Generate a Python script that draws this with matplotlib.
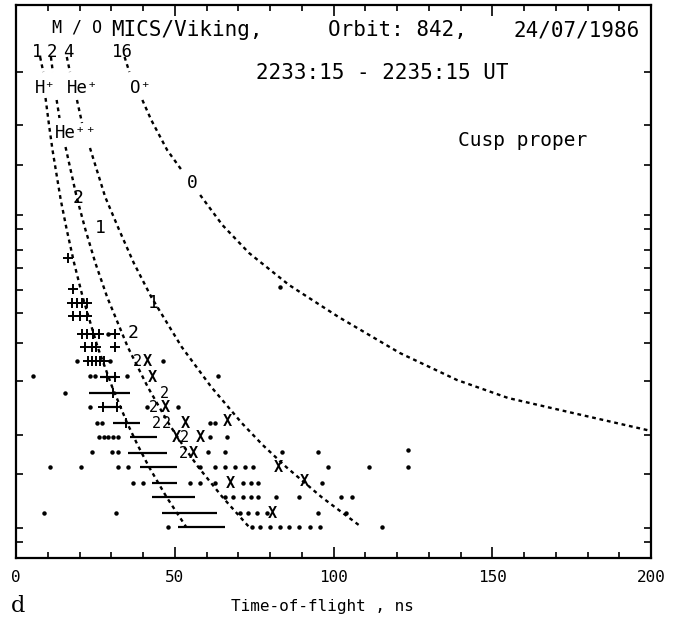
import matplotlib
matplotlib.use("Agg")
import matplotlib.pyplot as plt
from matplotlib.ticker import MultipleLocator

mono = ['DejaVu Sans Mono', 'DejaVu Sans']
plt.rcParams['font.family'] = mono

# vertical scale is the energy step row (0 = top of frame), unlabeled
ytick_rows = [72, 125, 165, 215, 229, 250, 268, 290, 313, 343, 381, 435, 474, 528, 542]
xtick_major = [0, 50, 100, 150, 200]

# M/Q calibration curves, each split into pieces around their labels (tof ns, row)
h_pieces = [
    ([7.6, 8.6], [57, 72]),
    ([9.3, 10.4, 11.5, 14.1, 16.0, 18.3, 21.0, 25.7, 30.3, 35.0, 38.3, 41.9, 47.4, 53.6],
     [98, 125, 150, 200, 230, 263, 297, 347, 387, 423, 445, 467, 497, 527]),
]
hepp_pieces = [
    ([11.0, 11.6], [57, 72]),
    ([12.8, 13.7], [100, 118]),
    ([15.6, 19.1, 21.9, 25.0, 28.7, 35.2, 41.5, 48.0, 52.5, 57.4, 65.0, 73.4],
     [147, 197, 230, 263, 297, 347, 387, 423, 445, 467, 497, 527]),
]
hep_pieces = [
    ([16.0, 17.0], [57, 72]),
    ([19.2, 20.8], [100, 123]),
    ([23.3, 28.1, 32.5, 37.1, 42.6, 52.2, 61.5, 71.1, 77.7, 85.1, 96.2, 108.8],
     [148, 197, 230, 263, 297, 347, 387, 423, 445, 467, 497, 527]),
]
op_pieces = [
    ([34.2, 35.7], [57, 72]),
    ([39.8, 42.6, 47.6, 52.6], [100, 120, 150, 172]),
    ([58.0, 65.0, 73.4, 86.0, 101.6, 120.9, 138.9, 155.0, 175.4, 198.7, 200.0],
     [195, 225, 253, 285, 317, 353, 380, 398, 413, 430, 431]),
]

# single counts
dot_tof = [29.0, 19.2, 29.6, 46.3, 5.4, 23.3, 24.9, 35.0, 63.6, 15.4,
           23.3, 41.3, 51.0, 25.5, 27.1, 61.1, 62.7,
           26.1, 27.7, 29.0, 30.6, 32.1, 61.1, 66.5,
           23.9, 30.2, 32.1, 60.5, 65.8, 83.8, 95.1,
           10.7, 20.5, 32.1, 35.3, 58.0, 62.7, 65.8, 69.0, 72.0, 74.6, 98.3, 111.2, 123.5,
           36.9, 40.0, 54.8, 58.0, 62.7, 71.5, 74.0, 76.2, 96.4,
           65.8, 68.5, 71.5, 74.0, 76.2, 81.9, 89.1, 102.4, 105.8,
           8.8, 31.5, 70.6, 73.0, 76.0, 79.1, 95.1, 103.9,
           47.9, 74.3, 77.0, 80.0, 83.0, 86.0, 89.0, 92.6, 95.7, 115.3,
           83.1, 123.5]
dot_row = [334, 361, 361, 361, 376, 376, 376, 376, 376, 393,
           407, 407, 407, 423, 423, 423, 423,
           437, 437, 437, 437, 437, 437, 437,
           452, 452, 452, 452, 452, 452, 452,
           467, 467, 467, 467, 467, 467, 467, 467, 467, 467, 467, 467, 467,
           483, 483, 483, 483, 483, 483, 483, 483, 483,
           497, 497, 497, 497, 497, 497, 497, 497, 497,
           513, 513, 513, 513, 513, 513, 513, 513,
           527, 527, 527, 527, 527, 527, 527, 527, 527, 527,
           287, 450]

# runs of adjacent counts
run_start = [26.5, 23.0, 27.4, 30.6, 35.9, 35.3, 39.1, 42.8, 42.8, 46.0, 51.0]
run_end = [31.8, 35.9, 31.8, 39.1, 44.4, 47.6, 50.7, 50.7, 56.4, 63.3, 65.8]
run_row = [377, 393, 407, 423, 437, 453, 467, 483, 497, 513, 527]

plus_tof = [16.4, 18.0, 17.6, 19.2, 20.8, 22.4, 18.0, 20.2, 22.4,
            20.8, 22.4, 24.3, 26.1, 31.2, 21.7, 23.9, 25.2, 31.2,
            22.7, 24.0, 25.2, 26.5, 27.7, 28.7, 31.2, 30.6, 27.4, 31.8, 34.6]
plus_row = [258, 289, 303, 303, 303, 303, 316, 316, 316,
            334, 334, 334, 334, 334, 347, 347, 347, 347,
            361, 361, 361, 361, 361, 377, 377, 393, 407, 407, 423]

x_tof = [41.3, 42.8, 46.9, 53.2, 66.5, 50.4, 58.0, 55.8, 82.5, 90.7, 67.4, 80.9]
x_row = [362, 378, 408, 423, 422, 437, 437, 453, 467, 482, 483, 513]

two_tof = [38.2, 46.9, 43.4, 44.2, 47.3, 53.0, 52.6]
two_row = [362, 393, 408, 423, 423, 437, 453]

# labels along the curves
curve_marks = ['0', '2', '1', '1', '2']
curve_mark_tof = [55.4, 19.5, 26.5, 43.1, 36.9]
curve_mark_row = [183, 198, 228, 303, 333]

mq_values = ['1', '2', '4', '16']
mq_tof = [6.6, 11.3, 16.4, 33.4]
ion_names = ['H⁺', 'He⁺', 'O⁺', 'He⁺⁺']
ion_tof = [9.1, 21.1, 39.1, 19.0]
ion_row = [88, 88, 88, 133]

fig = plt.figure(figsize=(6.82, 6.22), dpi=100)
ax = fig.add_axes([16 / 682, 64 / 622, 635 / 682, 553 / 622])
ax.set_xlim(0, 200)
ax.set_ylim(558, 5)

dash = dict(color='k', lw=1.7, linestyle=(0, (1.6, 1.6)))
for pieces in (h_pieces, hepp_pieces, hep_pieces, op_pieces):
    for xs, ys in pieces:
        ax.plot(xs, ys, **dash)

ax.plot(dot_tof, dot_row, 'o', ms=2.2, color='k')
ax.hlines(run_row, run_start, run_end, color='k', lw=1.6)
ax.plot(plus_tof, plus_row, '+', ms=7, mew=1.4, color='k')
for x, y in zip(x_tof, x_row):
    ax.text(x, y, 'X', fontsize=11, fontweight='bold', ha='center', va='center')
for x, y in zip(two_tof, two_row):
    ax.text(x, y, '2', fontsize=11, ha='center', va='center')
for s, x, y in zip(curve_marks, curve_mark_tof, curve_mark_row):
    ax.text(x, y, s, fontsize=13, ha='center', va='center')

for s, x in zip(mq_values, mq_tof):
    ax.text(x, 52, s, fontsize=12.5, ha='center', va='center')
for s, x, y in zip(ion_names, ion_tof, ion_row):
    ax.text(x, y, s, fontsize=12.5, ha='center', va='center')

ax.text(19.3, 28, 'M / O', fontsize=12, ha='center', va='center')
ax.text(30.0, 30, 'MICS/Viking,', fontsize=15, ha='left', va='center')
ax.text(98.3, 30, 'Orbit: 842,', fontsize=15, ha='left', va='center')
ax.text(196.5, 30, '24/07/1986', fontsize=15, ha='right', va='center')
ax.text(115.3, 73, '2233:15 - 2235:15 UT', fontsize=15, ha='center', va='center')
ax.text(159.7, 140, 'Cusp proper', fontsize=14, ha='center', va='center')

ax.set_xticks(xtick_major)
ax.xaxis.set_minor_locator(MultipleLocator(10))
ax.set_yticks(ytick_rows)
ax.tick_params(axis='x', which='major', direction='in', top=True, length=8,
               width=1.2, labelsize=11.5, pad=9)
ax.tick_params(axis='x', which='minor', direction='in', top=True, length=4, width=1.2)
ax.tick_params(axis='y', direction='in', right=True, length=5, width=1.2,
               labelleft=False)
for sp in ax.spines.values():
    sp.set_linewidth(1.6)

fig.text(322 / 682, 1 - 606 / 622, 'Time-of-flight , ns', fontsize=11.5,
         ha='center', va='center')
fig.text(18 / 682, 1 - 606 / 622, 'd', fontsize=16, family='DejaVu Serif',
         ha='center', va='center')

fig.savefig('out.png', dpi=100)
